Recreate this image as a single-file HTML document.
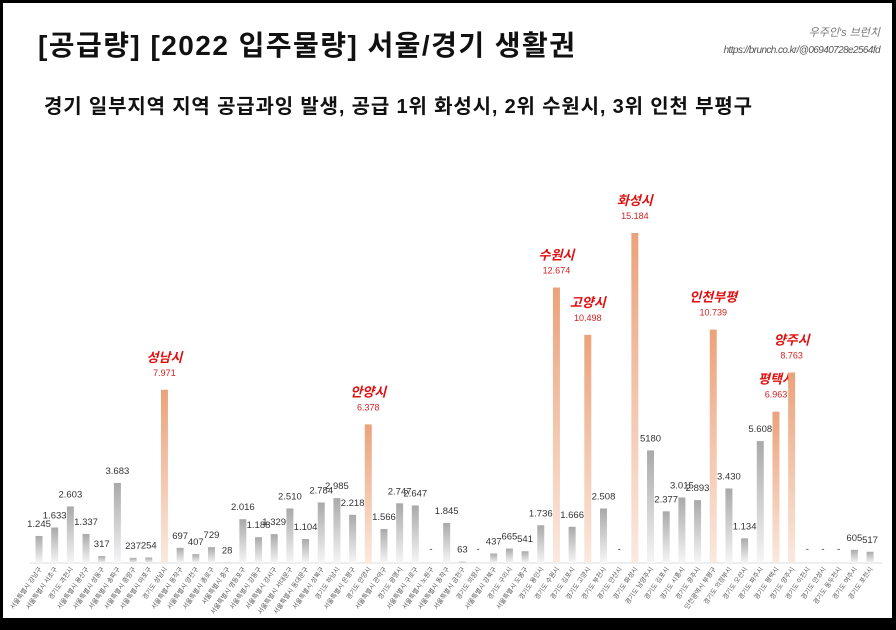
<!DOCTYPE html>
<html><head><meta charset="utf-8">
<style>
html,body{margin:0;padding:0;background:#000;}
#wrap{position:relative;width:896px;height:630px;background:#000;overflow:hidden;font-family:"Liberation Sans","Noto Sans CJK KR",sans-serif;}
#panel{position:absolute;left:3px;top:3px;width:889px;height:615px;background:#fff;}
</style></head>
<body>
<div id="wrap">
<div id="panel"></div>
<svg id="chart" width="896" height="630" style="position:absolute;left:0;top:0">
<defs>
<linearGradient id="gGray" x1="0" y1="0" x2="0" y2="1"><stop offset="0" stop-color="#a9a9a9"/><stop offset="1" stop-color="#f6f6f8"/></linearGradient>
<linearGradient id="gOr" x1="0" y1="0" x2="0" y2="1"><stop offset="0" stop-color="#eba27a"/><stop offset="1" stop-color="#fbe9df"/></linearGradient>
</defs>
<text x="38" y="55" font-size="28" font-weight="bold" fill="#111" textLength="537" lengthAdjust="spacing">[공급량] [2022 입주물량] 서울/경기 생활권</text>
<text x="44" y="113" font-size="20" font-weight="bold" fill="#111" textLength="708" lengthAdjust="spacing">경기 일부지역 지역 공급과잉 발생, 공급 1위 화성시, 2위 수원시, 3위 인천 부평구</text>
<text x="880" y="36" font-size="11" font-style="italic" fill="#777" text-anchor="end">우주인's 브런치</text>
<text x="880" y="53" font-size="10" font-style="italic" fill="#555" text-anchor="end" letter-spacing="-0.6">https://brunch.co.kr/@06940728e2564fd</text>
<line x1="30" y1="563" x2="882" y2="563" stroke="#ddd" stroke-width="1"/>
<g id="bars"></g>
</svg>
</div>
<script>
const categories=["서울특별시 강남구","서울특별시 서초구","경기도 과천시","서울특별시 용산구","서울특별시 성동구","서울특별시 송파구","서울특별시 중랑구","서울특별시 마포구","경기도 성남시","서울특별시 동작구","서울특별시 양천구","서울특별시 종로구","서울특별시 중구","서울특별시 영등포구","서울특별시 강동구","서울특별시 강서구","서울특별시 서대문구","서울특별시 동대문구","서울특별시 성북구","경기도 하남시","서울특별시 은평구","경기도 안양시","서울특별시 관악구","경기도 광명시","서울특별시 구로구","서울특별시 노원구","서울특별시 동작구","서울특별시 금천구","경기도 의왕시","서울특별시 강북구","경기도 구리시","서울특별시 도봉구","경기도 용인시","경기도 수원시","경기도 김포시","경기도 고양시","경기도 부천시","경기도 안산시","경기도 화성시","경기도 남양주시","경기도 김포시","경기도 시흥시","경기도 광주시","인천광역시 부평구","경기도 의정부시","경기도 오산시","경기도 파주시","경기도 평택시","경기도 양주시","경기도 이천시","경기도 안성시","경기도 동두천시","경기도 여주시","경기도 포천시"];
const values=[1245,1633,2603,1337,317,3683,237,254,7971,697,407,729,28,2016,1188,1329,2510,1104,2784,2985,2218,6378,1566,2747,2647,0,1845,63,0,437,665,541,1736,12674,1666,10498,2508,0,15184,5180,2377,3015,2893,10739,3430,1134,5608,6963,8763,0,0,0,605,517];
const highlightNames=["","","","","","","","","성남시","","","","","","","","","","","","","안양시","","","","","","","","","","","","수원시","","고양시","","","화성시","","","","","인천부평","","","","평택시","양주시","","","","",""];
const printed=["1.245","1.633","2.603","1.337","317","3.683","237","254","7.971","697","407","729","28","2.016","1.188","1.329","2.510","1.104","2.784","2.985","2.218","6.378","1.566","2.747","2.647","-","1.845","63","-","437","665","541","1.736","12.674","1.666","10.498","2.508","-","15.184","5180","2.377","3.015","2.893","10.739","3.430","1.134","5.608","6.963","8.763","-","-","-","605","517"];
const NS="http://www.w3.org/2000/svg";
const x0=39,step=15.68,base=563,scale=330/15184,bw=7;
function xPos(i){return x0+i*step;}
function yPos(v){return base-v*scale;}
const g=document.getElementById('bars');
for(let i=0;i<values.length;i++){
  const v=values[i],cx=xPos(i),top=yPos(v),hl=highlightNames[i]!=="";
  if(v>0){
    const r=document.createElementNS(NS,'rect');
    r.setAttribute('x',cx-bw/2);r.setAttribute('y',top);r.setAttribute('width',bw);r.setAttribute('height',base-top);
    r.setAttribute('fill',hl?'url(#gOr)':'url(#gGray)');
    
    
    g.appendChild(r);
  }
  const t=document.createElementNS(NS,'text');
  t.setAttribute('x',cx);t.setAttribute('text-anchor','middle');
  if(hl){
    t.setAttribute('y',top-14);t.setAttribute('font-size','9');t.setAttribute('fill','#d42020');
    t.textContent=printed[i];
    const n=document.createElementNS(NS,'text');
    n.setAttribute('x',cx);n.setAttribute('y',top-28);n.setAttribute('text-anchor','middle');
    n.setAttribute('font-size','13');n.setAttribute('font-weight','bold');n.setAttribute('font-style','italic');n.setAttribute('fill','#e01010');
    n.textContent=highlightNames[i];
    
    
    g.appendChild(n);
  } else {
    t.setAttribute('y',(v>0?top-9:base-11));t.setAttribute('font-size','9.5');t.setAttribute('fill','#333');
    t.textContent=printed[i];
  }
  
  
  g.appendChild(t);
  const c=document.createElementNS(NS,'text');
  c.setAttribute('x',cx+3);c.setAttribute('y',base+6);c.setAttribute('text-anchor','end');
  c.setAttribute('font-size','6.5');c.setAttribute('fill','#555');
  c.setAttribute('transform','rotate(-55 '+(cx+3)+' '+(base+6)+')');
  c.textContent=categories[i];
  
  
  g.appendChild(c);
}
</script>
</body></html>
